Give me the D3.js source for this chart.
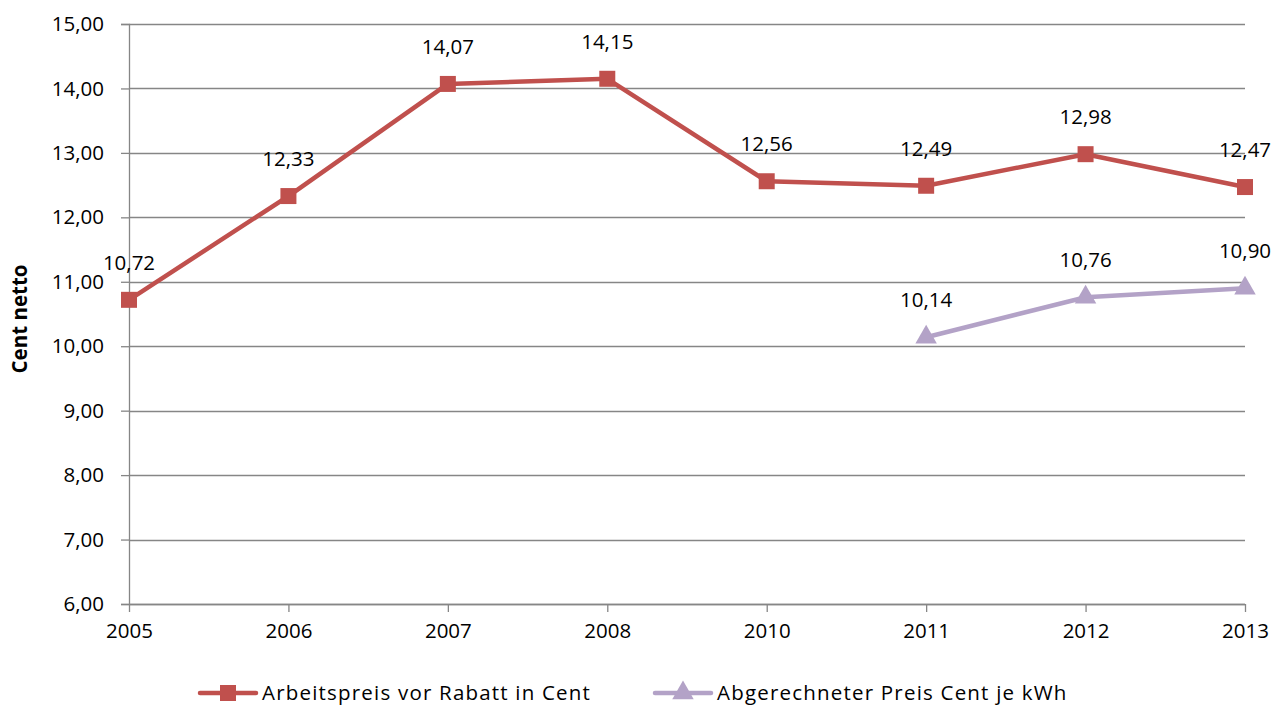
<!DOCTYPE html>
<html><head><meta charset="utf-8">
<script src="https://cdn.jsdelivr.net/npm/d3@7"></script>
<style>body{margin:0;background:#fff}svg{display:block;font-family:"Open Sans","Noto Sans",sans-serif}</style>
</head><body><svg id="c" width="1281" height="710"></svg>
<script>
const years = ["2005","2006","2007","2008","2010","2011","2012","2013"];
const arbeitspreis = [10.72,12.33,14.07,14.15,12.56,12.49,12.98,12.47];
const abgerechnet = [null,null,null,null,null,10.14,10.76,10.90];
const yTicks = [6,7,8,9,10,11,12,13,14,15];
const seriesNames = ["Arbeitspreis vor Rabatt in Cent","Abgerechneter Preis Cent je kWh"];

const svg = d3.select("#c");
const L=129,R=1245,T=24,B=604;
const FS=20.5;
const x = d3.scalePoint().domain(years).range([L,R]).padding(0);
const y = d3.scaleLinear().domain([6,15]).range([B,T]);
const fmt = v => v.toFixed(2).replace(".",",");
const grid="#868686";

// gridlines
svg.append("g").selectAll("line").data(yTicks).join("line")
  .attr("x1",L).attr("x2",R).attr("y1",d=>Math.round(y(d))+0.5).attr("y2",d=>Math.round(y(d))+0.5)
  .attr("stroke",grid).attr("stroke-width",1.3);

const ya = svg.append("g").attr("transform",`translate(${L},0)`)
  .call(d3.axisLeft(y).tickValues(yTicks).tickFormat(fmt).tickSize(8).tickPadding(17));
const xa = svg.append("g").attr("transform",`translate(0,${B})`)
  .call(d3.axisBottom(x).tickSize(8).tickPadding(11));
[ya,xa].forEach(a=>{a.selectAll("path,line").attr("stroke",grid).attr("stroke-width",1.3);
  a.selectAll("text").attr("font-size",FS).attr("fill","#000").attr("font-family","'Open Sans',sans-serif");});
xa.select(".domain").remove();
svg.append("line").attr("x1",L).attr("x2",R).attr("y1",B+0.5).attr("y2",B+0.5).attr("stroke",grid).attr("stroke-width",1.3);

svg.append("text").attr("transform",`translate(27,${(T+B)/2+5}) rotate(-90)`)
  .attr("text-anchor","middle").attr("font-weight","bold").attr("font-size",20.5).text("Cent netto");

const red="#C0504D", purple="#B3A2C7";
const line = d3.line().defined(d=>d[1]!=null).x(d=>x(d[0])).y(d=>y(d[1]));
const s1 = years.map((yr,i)=>[yr,arbeitspreis[i]]);
const s2 = years.map((yr,i)=>[yr,abgerechnet[i]]).filter(d=>d[1]!=null);

svg.append("path").datum(s1).attr("d",line).attr("fill","none").attr("stroke",red).attr("stroke-width",4.5).attr("stroke-linejoin","round");
svg.append("path").datum(s2).attr("d",line).attr("fill","none").attr("stroke",purple).attr("stroke-width",4.5).attr("stroke-linejoin","round");

const sq = d3.symbol().type(d3.symbolSquare).size(256);
const tri = d3.symbol().type(d3.symbolTriangle).size(200);
svg.append("g").selectAll("path").data(s1).join("path").attr("d",sq)
  .attr("transform",d=>`translate(${x(d[0])},${y(d[1])})`).attr("fill",red);
svg.append("g").selectAll("path").data(s2).join("path").attr("d",tri)
  .attr("transform",d=>`translate(${x(d[0])},${y(d[1])})`).attr("fill",purple);

const lab = (data)=>svg.append("g").selectAll("text").data(data).join("text")
  .attr("x",d=>x(d[0])).attr("y",d=>y(d[1])-30).attr("text-anchor","middle")
  .attr("font-size",FS).text(d=>fmt(d[1]));
lab(s1); lab(s2);

// legend
const lg = svg.append("g");
const items=[{n:seriesNames[0],c:red,s:sq,x0:200},{n:seriesNames[1],c:purple,s:tri,x0:655}];
items.forEach(it=>{
  lg.append("line").attr("x1",it.x0).attr("x2",it.x0+56).attr("y1",693).attr("y2",693).attr("stroke",it.c).attr("stroke-width",4.5).attr("stroke-linecap","round");
  lg.append("path").attr("d",it.s).attr("transform",`translate(${it.x0+28},693)`).attr("fill",it.c);
  lg.append("text").attr("x",it.x0+62).attr("y",700).attr("font-size",FS).attr("letter-spacing",1.2).text(it.n);
});
</script></body></html>
